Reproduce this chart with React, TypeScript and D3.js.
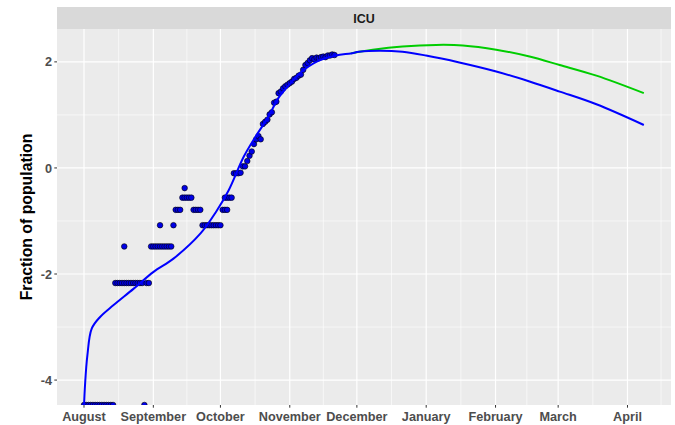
import React from "react";
import * as d3 from "d3";

// ---- data (days since 1 Aug 2020) ----
const pointDays = [
  0, 1, 2, 3, 4, 5, 6, 7, 8, 9, 10, 11, 12, 13, 27,
  14, 15, 16, 17, 18, 19, 20, 21, 22, 23, 24, 25, 26, 28, 29,
  18, 30, 31, 32, 33, 34, 35, 36, 37, 38, 39,
  34, 40, 53, 54, 55, 56, 57, 58, 59, 60, 61,
  41, 42, 43, 49, 50, 51, 52, 62, 63, 64,
  44, 45, 46, 47, 48, 63, 64, 65, 66,
  45,
  67, 68, 69, 70, 71, 72, 73, 74, 75, 76, 77, 78, 79, 80, 81, 82, 83, 84, 85, 86,
  87, 88, 89, 90, 91, 92, 93, 94, 95, 96, 97, 98, 99, 100, 101, 102, 103, 104, 105,
  106, 107, 108, 109, 110, 111, 112,
];
const pointValues = [
  -4.47, -4.47, -4.47, -4.47, -4.47, -4.47, -4.47, -4.47, -4.47, -4.47, -4.47, -4.47, -4.47, -4.47, -4.47,
  -2.17, -2.17, -2.17, -2.17, -2.17, -2.17, -2.17, -2.17, -2.17, -2.17, -2.17, -2.17, -2.17, -2.17, -2.17,
  -1.48, -1.48, -1.48, -1.48, -1.48, -1.48, -1.48, -1.48, -1.48, -1.48, -1.48,
  -1.08, -1.08, -1.08, -1.08, -1.08, -1.08, -1.08, -1.08, -1.08, -1.08, -1.08,
  -0.79, -0.79, -0.79, -0.79, -0.79, -0.79, -0.79, -0.79, -0.79, -0.79,
  -0.56, -0.56, -0.56, -0.56, -0.56, -0.56, -0.56, -0.56, -0.56,
  -0.38,
  -0.1, -0.1, -0.1, -0.09, 0.03, 0.03, 0.13, 0.23, 0.31, 0.45, 0.54, 0.6, 0.54, 0.83, 0.87, 0.91, 1.01, 1.05, 1.23, 1.25,
  1.41, 1.44, 1.5, 1.54, 1.57, 1.6, 1.63, 1.68, 1.7, 1.74, 1.76, 1.85, 1.94, 1.98, 2.03, 2.07, 2.05, 2.08, 2.07,
  2.09, 2.1, 2.09, 2.12, 2.12, 2.14, 2.13,
];

const fitDays = [0, 0.45, 1.5, 3.45, 7.2, 13.1, 22.1, 31.1, 40, 52, 59, 64.7, 71.4, 76.7, 81.9, 84.1, 87.1, 90.9, 96.9, 104.3, 112.6, 119.3, 123, 132, 142.4, 152.9, 167.8, 184.3, 199.2, 212.7, 229.1, 250.3];
const fitValues = [-4.5, -4.1, -3.54, -3.03, -2.81, -2.59, -2.28, -1.96, -1.71, -1.24, -0.83, -0.42, 0.21, 0.59, 0.93, 1.1, 1.33, 1.53, 1.8, 2.01, 2.12, 2.16, 2.19, 2.21, 2.19, 2.12, 1.99, 1.82, 1.63, 1.44, 1.2, 0.81];

const altDays = [119.3, 123, 129.1, 142.4, 157.4, 169.4, 184.3, 199.2, 212.7, 229.1, 250.3];
const altValues = [2.16, 2.19, 2.23, 2.29, 2.32, 2.31, 2.23, 2.1, 1.94, 1.74, 1.41];

const yTicks = [-4, -2, 0, 2];
const yMinor = [-3, -1, 1];
const panelTitle = "ICU";
const yTitle = "Fraction of population";

const AUG1 = Date.UTC(2020, 7, 1);
const dayToDate = (d: number) => new Date(AUG1 + d * 86400000);

export default function App() {
  const W = 675, H = 425;
  const left = 57, right = 671, top = 29, bottom = 405;
  const x = d3.scaleUtc().domain([dayToDate(-12.07), dayToDate(262.45)]).range([left, right]);
  const y = d3.scaleLinear().domain([-4.47, 2.62]).range([bottom, top]);

  const months = x.ticks(d3.utcMonth.every(1) as any);
  const allMonths = d3.utcMonth.range(new Date(Date.UTC(2020, 6, 1)), new Date(Date.UTC(2021, 5, 1)));
  const minorX: Date[] = [];
  for (let i = 0; i < allMonths.length - 1; i++) {
    const m = new Date((allMonths[i].getTime() + allMonths[i + 1].getTime()) / 2);
    if (m >= x.domain()[0] && m <= x.domain()[1]) minorX.push(m);
  }
  const fmt = d3.utcFormat("%B");

  const line = d3
    .line<[number, number]>()
    .x((d) => x(dayToDate(d[0])))
    .y((d) => y(d[1]))
    .curve(d3.curveCatmullRom.alpha(0.5));

  const fitPath = line(fitDays.map((d, i) => [d, fitValues[i]]) as [number, number][]) || "";
  const altPath = line(altDays.map((d, i) => [d, altValues[i]]) as [number, number][]) || "";

  const font = "'Liberation Sans', Arial, Helvetica, sans-serif";

  return (
    <svg width={W} height={H} style={{ position: "absolute", left: 0, top: 0, background: "#fff" }}>
      <defs>
        <clipPath id="panel">
          <rect x={left} y={top} width={right - left} height={bottom - top} />
        </clipPath>
      </defs>
      {/* strip */}
      <rect x={left} y={7} width={right - left} height={top - 7} fill="#D9D9D9" />
      <text x={(left + right) / 2} y={22.5} textAnchor="middle" fontFamily={font} fontWeight="bold" fontSize={12.5} fill="#1A1A1A">
        {panelTitle}
      </text>
      {/* panel */}
      <rect x={left} y={top} width={right - left} height={bottom - top} fill="#EBEBEB" />
      {yMinor.map((v) => (
        <line key={"ym" + v} x1={left} x2={right} y1={y(v)} y2={y(v)} stroke="#fff" strokeWidth={0.6} />
      ))}
      {minorX.map((d, i) => (
        <line key={"xm" + i} x1={x(d)} x2={x(d)} y1={top} y2={bottom} stroke="#fff" strokeWidth={0.6} />
      ))}
      {yTicks.map((v) => (
        <line key={"yg" + v} x1={left} x2={right} y1={y(v)} y2={y(v)} stroke="#fff" strokeWidth={1.2} />
      ))}
      {months.map((d, i) => (
        <line key={"xg" + i} x1={x(d)} x2={x(d)} y1={top} y2={bottom} stroke="#fff" strokeWidth={1.2} />
      ))}
      <g clipPath="url(#panel)">
        <path d={altPath} fill="none" stroke="#00CD00" strokeWidth={2} />
        {pointDays.map((d, i) => (
          <circle key={"p" + i} cx={x(dayToDate(d))} cy={y(pointValues[i])} r={2.8} fill="#0000E6" stroke="#000" strokeWidth={0.6} />
        ))}
        <path d={fitPath} fill="none" stroke="#0000FF" strokeWidth={2} />
      </g>
      {/* axes */}
      {yTicks.map((v) => (
        <g key={"yt" + v}>
          <line x1={left - 2.7} x2={left} y1={y(v)} y2={y(v)} stroke="#333" strokeWidth={1} />
          <text x={left - 5} y={y(v)} dy="0.36em" textAnchor="end" fontFamily={font} fontWeight="bold" fontSize={12.7} fill="#4D4D4D">
            {v}
          </text>
        </g>
      ))}
      {months.map((d, i) => (
        <g key={"xt" + i}>
          <line x1={x(d)} x2={x(d)} y1={bottom} y2={bottom + 2.7} stroke="#333" strokeWidth={1} />
          <text x={x(d)} y={421} textAnchor="middle" fontFamily={font} fontWeight="bold" fontSize={12.7} fill="#4D4D4D">
            {fmt(d)}
          </text>
        </g>
      ))}
      <text
        transform={`translate(32,${(top + bottom) / 2}) rotate(-90)`}
        textAnchor="middle"
        fontFamily={font}
        fontWeight="bold"
        fontSize={15.8}
        fill="#000"
      >
        {yTitle}
      </text>
    </svg>
  );
}
